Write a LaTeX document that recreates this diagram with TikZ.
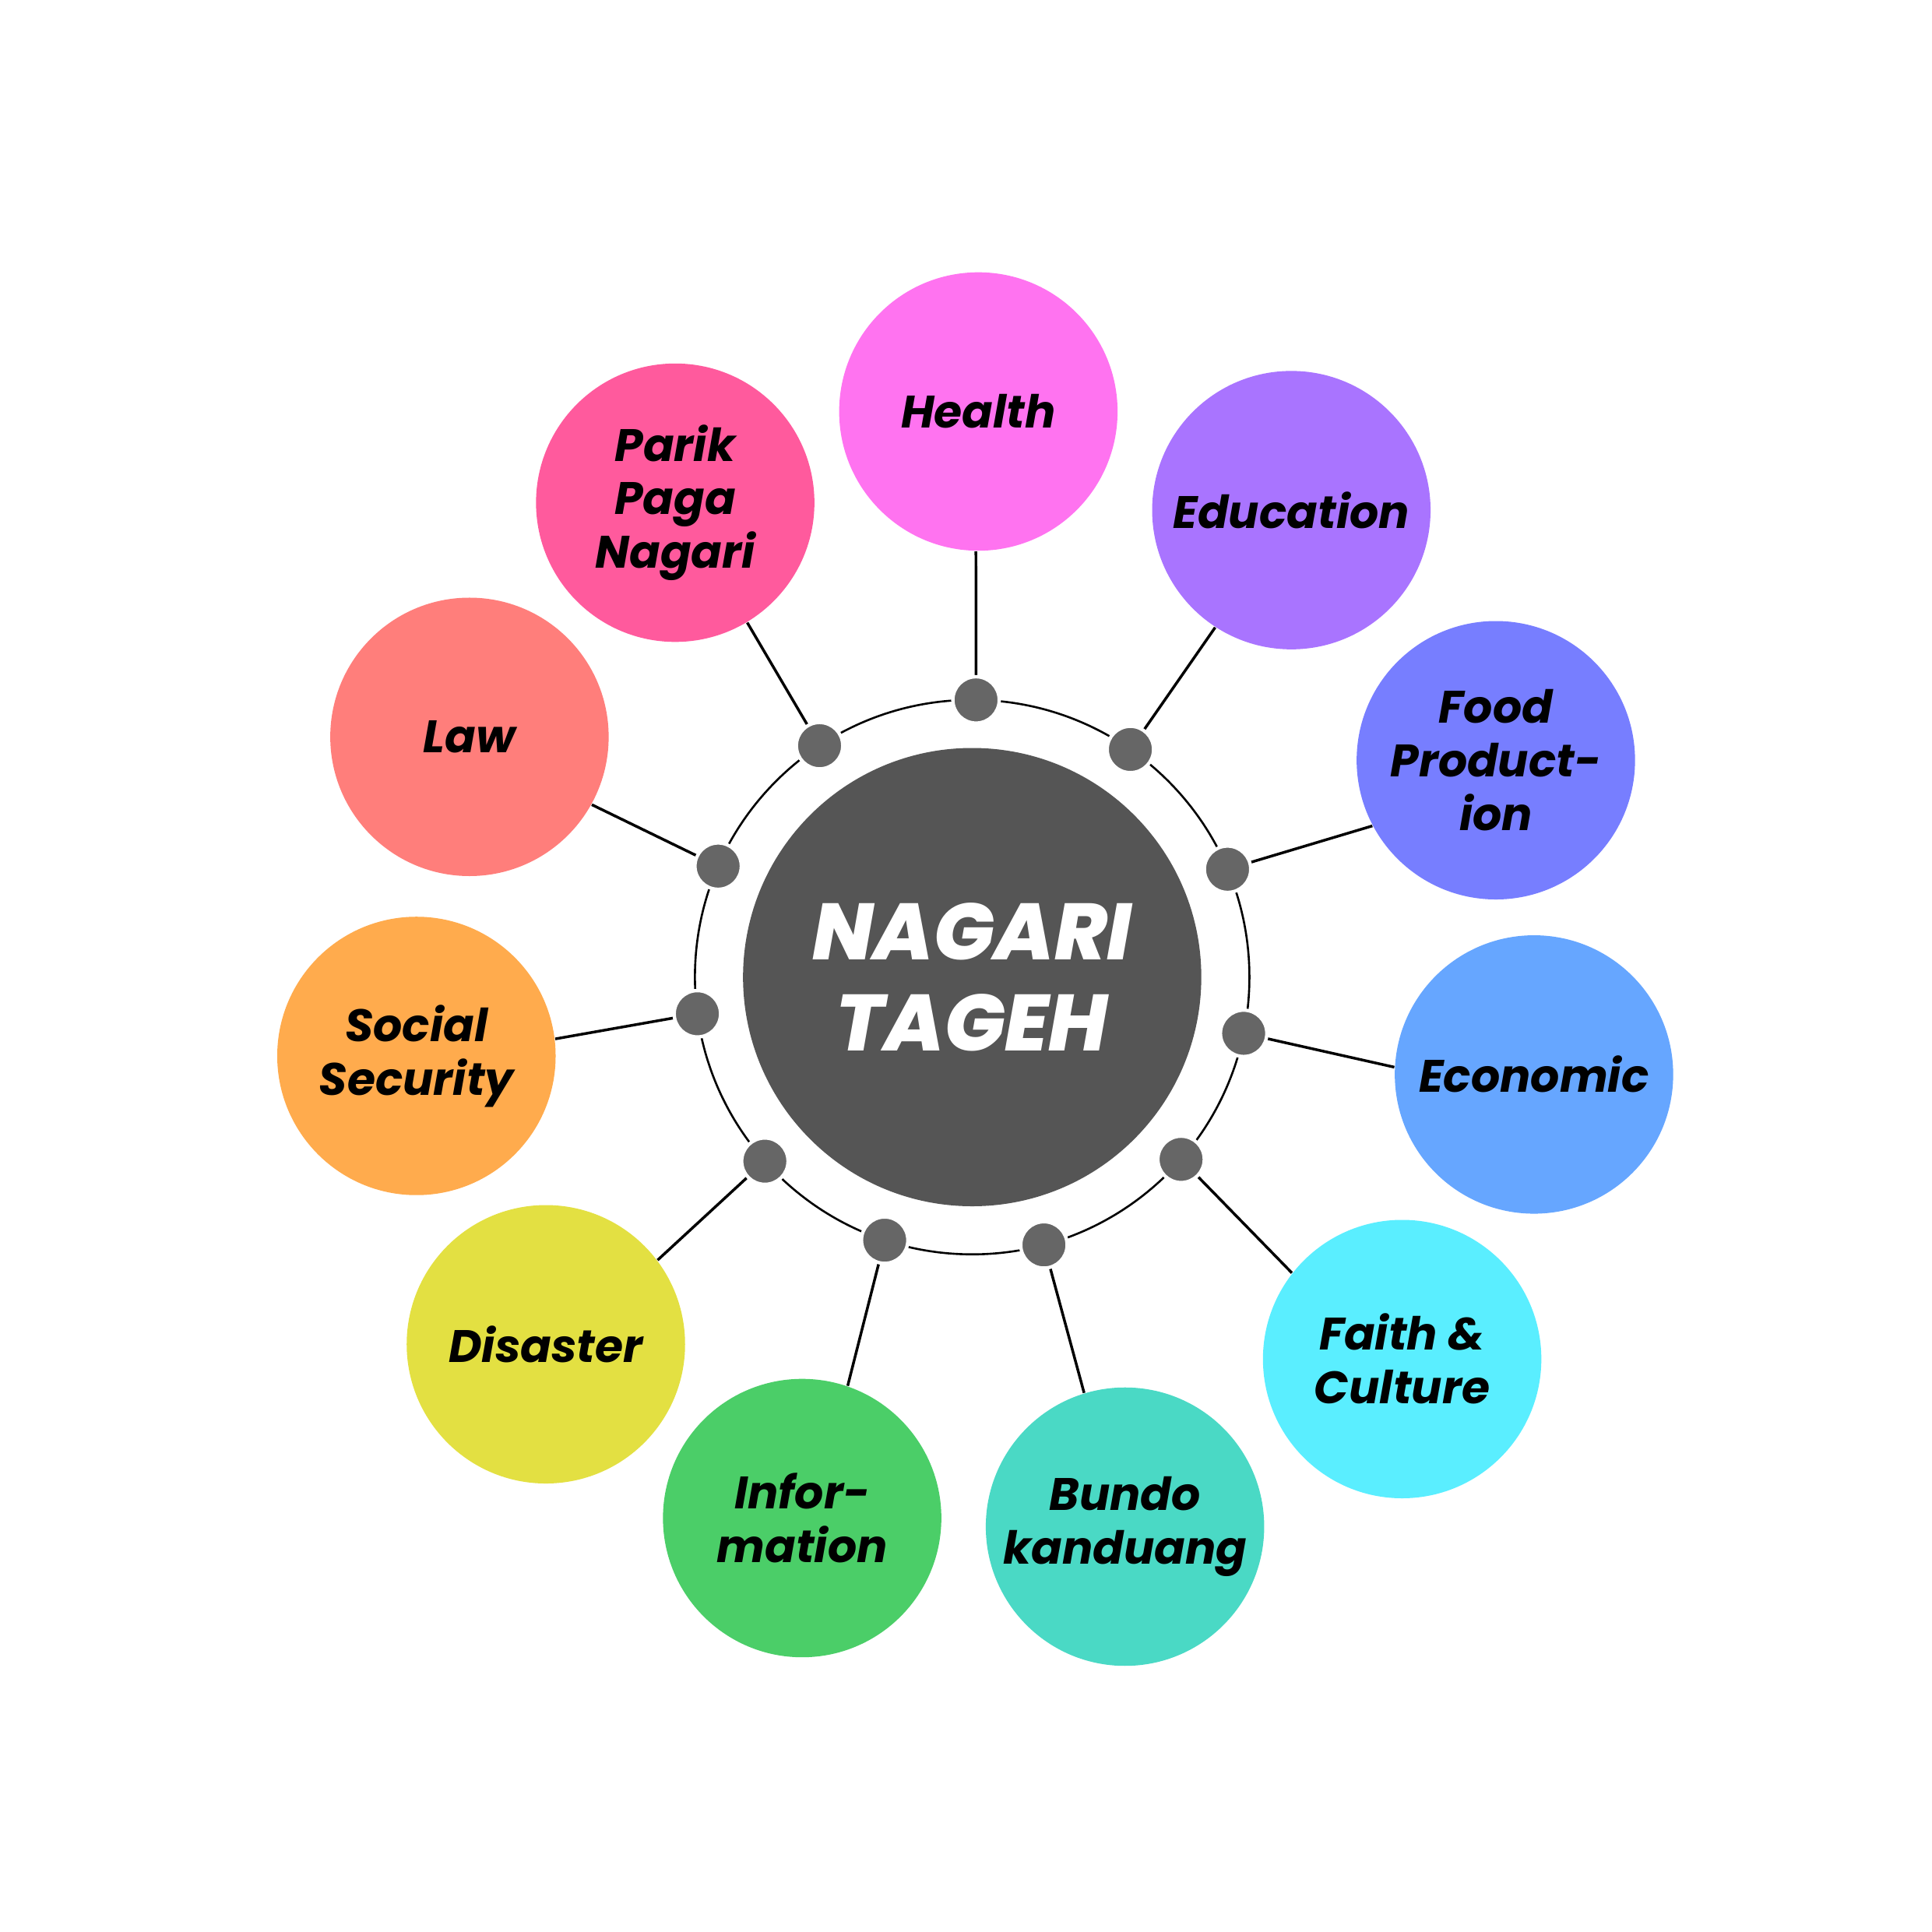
\documentclass[tikz,border=0pt]{standalone}
\usepackage{fontspec}
\setmainfont{Poppins}
\newfontfamily\hubfont{Poppins}[UprightFont={* ExtraBold Italic}]

\definecolor{hub}{HTML}{555555}
\definecolor{pin}{HTML}{666666}
\definecolor{health}{HTML}{FF73F0}
\definecolor{edu}{HTML}{A974FF}
\definecolor{food}{HTML}{777EFF}
\definecolor{econ}{HTML}{66A6FF}
\definecolor{faith}{HTML}{5AEEFF}
\definecolor{bundo}{HTML}{4AD9C5}
\definecolor{info}{HTML}{4BCE68}
\definecolor{disaster}{HTML}{E3E042}
\definecolor{social}{HTML}{FFAB4D}
\definecolor{law}{HTML}{FF7E7B}
\definecolor{parik}{HTML}{FF5A9D}

\begin{document}
\begin{tikzpicture}[font=\bfseries\itshape, every node/.style={text=black}]
  \useasboundingbox (-10.064,-9.885) rectangle (9.936,10.115);

  % The hub and the ring that carries one pin per topic.
  \node[circle, fill=hub, inner sep=0pt, minimum size=4.744cm, align=center,
        text=white, font=\hubfont\fontsize{23.5}{27}\selectfont] (hub) at (0,0) {NAGARI\\TAGEH};
  \draw[line width=.6pt] (0,0) circle (2.87);

  \tikzset{topic/.style={circle, fill=#1, inner sep=0pt, minimum size=2.882cm, align=center,
                         font=\bfseries\itshape\fontsize{13.4}{15.8}\selectfont},
           pinpt/.style={circle, fill=pin, draw=white, line width=1pt, inner sep=0pt, minimum size=.48cm}}

  \node[topic=health] (health) at (0.064,5.855) {Health};
  \node[topic=edu] (edu) at (3.304,4.834) {Education};
  \node[topic=food] (food) at (5.421,2.245) {Food\\Product-\\ion};
  \node[topic=econ] (econ) at (5.816,-1.008) {Economic};
  \node[topic=faith] (faith) at (4.451,-3.954) {Faith \&\\Culture};
  \node[topic=bundo] (bundo) at (1.582,-5.689) {Bundo\\kanduang};
  \node[topic=info] (info) at (-1.760,-5.600) {Infor-\\mation};
  \node[topic=disaster] (disaster) at (-4.413,-3.801) {Disaster};
  \node[topic=social] (social) at (-5.753,-0.816) {Social\\Security};
  \node[topic=law] (law) at (-5.204,2.487) {Law};
  \node[topic=parik] (parik) at (-3.074,4.911) {Parik\\Paga\\Nagari};

  % Pins sit on the ring; the spokes run from each pin out to its topic.
  \foreach \t/\a/\e in {health/89.2/269, edu/55.2/237, food/22.9/208, econ/-11.7/177,
                        faith/-41.1/142, bundo/-75/107, info/-108.4/71, disaster/-138.4/37,
                        social/-172.4/7, law/156.4/-29, parik/123.4/-59} {
    \coordinate (p-\t) at (\a:2.87);
    \draw[line width=.8pt] (p-\t) -- (\t.\e);
    \node[pinpt] at (p-\t) {};
  }
\end{tikzpicture}
\end{document}
